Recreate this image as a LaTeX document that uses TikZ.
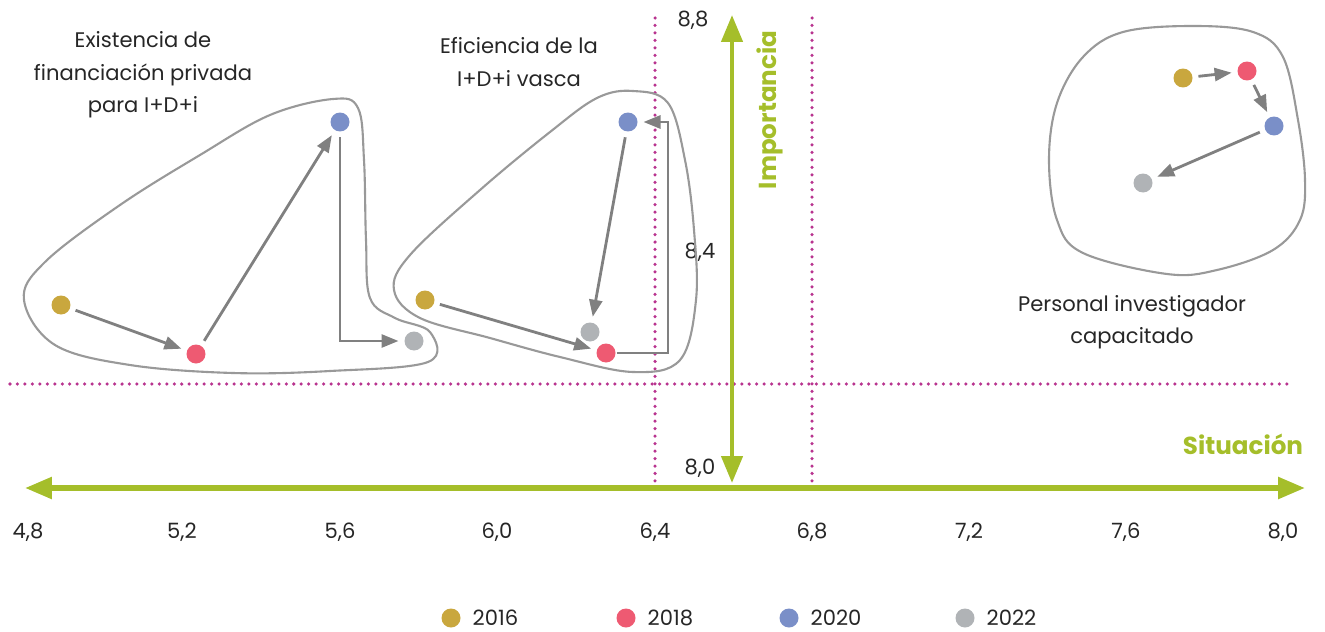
\documentclass[tikz,border=0pt]{standalone}
\usepackage{fontspec}
\setmainfont{Poppins}
\usetikzlibrary{arrows.meta}
\definecolor{verde}{HTML}{A5BE2A}
\definecolor{rosa}{HTML}{B8348F}
\definecolor{oro}{HTML}{C9A73E}
\definecolor{rojo}{HTML}{EE5A72}
\definecolor{azul}{HTML}{7A8FC8}
\definecolor{gris}{HTML}{B0B3B6}
\definecolor{linea}{HTML}{999999}
\definecolor{flechagris}{HTML}{808080}

\begin{document}
\begin{tikzpicture}
						[x=0.02cm,y=-0.02cm,
						dot/.style={circle,minimum size=0.38cm,inner sep=0pt,outer sep=0.12cm},
						txt/.style={font=\fontsize{12}{18.5}\selectfont,align=center,text=black!85},
						flecha/.style={draw=flechagris,line width=1.6pt,-{Triangle[length=0.34cm,width=0.26cm]}},
						eje/.style={draw=verde,line width=0.11cm},
						puntos/.style={draw=rosa,line width=2pt,line cap=round,dash pattern=on 0pt off 4.25pt},
						borde/.style={draw=linea,line width=1.2pt}]
					\useasboundingbox (0,0) rectangle (1325,632);
					% ejes
					\coordinate (xi) at (25,488);
					\coordinate (xd) at (1305,488);
					\coordinate (yb) at (732,483);
					\coordinate (ya) at (732,15);
					\draw[puntos] (655,18) -- (655,488);
					\draw[puntos] (812,18) -- (812,488);
					\draw[puntos] (10,384) -- (1292,384);
					\draw[eje,{Triangle[length=0.54cm,width=0.42cm]}-{Triangle[length=0.54cm,width=0.42cm]}] (xi) -- (xd);
					\draw[eje,line width=0.09cm,{Triangle[length=0.54cm,width=0.42cm]}-{Triangle[length=0.54cm,width=0.42cm]}] (yb) -- (ya);
					\foreach \v/\x in {{4,8}/28,{5,2}/182,{5,6}/340,{6,0}/497,{6,4}/655,{6,8}/812,{7,2}/969,{7,6}/1126,{8,0}/1283}
						\node[txt] at (\x,532) {\v};
					\node[txt] (y88) at (693,20) {8,8};
					\node[txt] (y84) at (700,252) {8,4};
					\node[txt] (y80) at (700,468) {8,0};
					\node[font=\fontsize{14}{16}\bfseries,text=verde,rotate=90] (imp) at (770,110) {Importancia};
					\node[font=\fontsize{14}{16}\bfseries,text=verde] (sit) at (1243,444) {Situación};
					% grupo 1
					\draw[borde] plot[smooth cycle,tension=0.6] coordinates {(24,300) (45,262) (120,205) (200,155) (270,115) (333,99) (358,108) (364,160) (366,240) (370,298) (395,318) (430,332) (428,362) (330,371) (233,373) (130,365) (55,345)};
					\node[dot,fill=oro] (a16) at (61,305) {};
					\node[dot,fill=rojo] (a18) at (196,354) {};
					\node[dot,fill=azul] (a20) at (340,122) {};
					\node[dot,fill=gris] (a22) at (414,341) {};
					\path (a16) edge[flecha] (a18);
					\path (a18) edge[flecha] (a20);
					\draw[flecha] (a20) |- (a22);
					\node[txt] (ta) at (143,75) {Existencia de\\financiación privada\\para I+D+i};
					% grupo 2
					\draw[borde] plot[smooth cycle,tension=0.6] coordinates {(633,91) (668,103) (685,160) (694,230) (696,300) (680,360) (633,372) (560,357) (490,338) (420,318) (394,290) (410,255) (480,190) (550,132) (597,98)};
					\node[dot,fill=oro] (b16) at (425,300) {};
					\node[dot,fill=rojo] (b18) at (606,353) {};
					\node[dot,fill=azul] (b20) at (628,122) {};
					\node[dot,fill=gris] (b22) at (590,332) {};
					\coordinate (bk) at (668,353);
					\path (b16) edge[flecha] (b18);
					\path (b20) edge[flecha] (b22);
					\draw[flecha,shorten <=-0.1cm] (b18) -- (bk) |- (b20);
					\node[txt] (tb) at (519,62) {Eficiencia de la\\I+D+i vasca};
					% grupo 3
					\draw[borde] plot[smooth cycle,tension=0.6] coordinates {(1193,26) (1253,32) (1283,57) (1298,120) (1305,180) (1300,220) (1273,250) (1217,270) (1167,274) (1083,253) (1057,220) (1049,160) (1057,103) (1083,57) (1123,32)};
					\node[dot,fill=oro] (c16) at (1183,78) {};
					\node[dot,fill=rojo] (c18) at (1247,71) {};
					\node[dot,fill=azul] (c20) at (1274,126) {};
					\node[dot,fill=gris] (c22) at (1143,183) {};
					\path (c16) edge[flecha] (c18);
					\path (c18) edge[flecha] (c20);
					\path (c20) edge[flecha] (c22);
					\node[txt] (tc) at (1132,322) {Personal investigador\\capacitado};
					% leyenda
					\node[dot,fill=oro] (l16) at (451,618) {};
					\node[txt,anchor=west] at (l16.east) {2016};
					\node[dot,fill=rojo] (l18) at (626,618) {};
					\node[txt,anchor=west] at (l18.east) {2018};
					\node[dot,fill=azul] (l20) at (789,618) {};
					\node[txt,anchor=west] at (l20.east) {2020};
					\node[dot,fill=gris] (l22) at (965,618) {};
					\node[txt,anchor=west] at (l22.east) {2022};
				\end{tikzpicture}
\end{document}
